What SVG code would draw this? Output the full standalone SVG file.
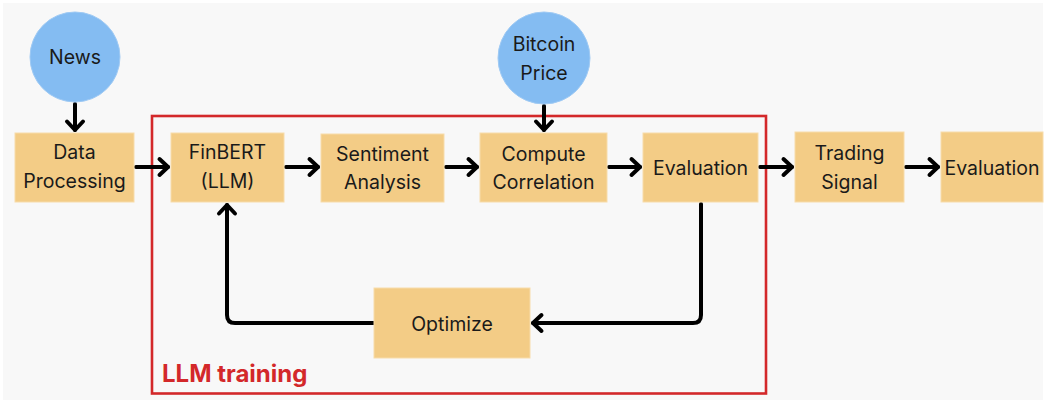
<svg xmlns="http://www.w3.org/2000/svg" width="1046" height="403" viewBox="0 0 1046 403">
<style>
.box{fill:#f3cc86;stroke:#f7dcaa;stroke-width:1}
.circ{fill:#84bcf2;stroke:#9fcaf4;stroke-width:1}
.t{font-family:Inter,"DejaVu Sans",sans-serif;font-size:19.5px;fill:#1a1a1a;text-anchor:middle}
.c{fill:none;stroke:#000;stroke-width:4;stroke-linecap:round;stroke-linejoin:round}
</style>
<defs>
<marker id="ah" markerUnits="userSpaceOnUse" markerWidth="24" markerHeight="24" viewBox="-14 -12 24 24" refX="0" refY="0" orient="auto" overflow="visible">
<path d="M-8.5,-8 L0,0 L-8.5,8" fill="none" stroke="#000" stroke-width="4" stroke-linecap="round" stroke-linejoin="round"/>
</marker>
</defs>
<rect x="0" y="0" width="1046" height="403" fill="#ffffff"/>
<rect x="3" y="3" width="1040" height="397" fill="#f8f8f8"/>
<g id="group-llm-training">
<rect x="152" y="116" width="614" height="277.5" fill="none" stroke="#d3282a" stroke-width="2.6"/>
<text x="162" y="382" font-family="Inter,'DejaVu Sans',sans-serif" font-size="24px" font-weight="700" fill="#d3282a">LLM training</text>
</g>
<g id="connectors">
<path class="c" d="M75,104 V130" marker-end="url(#ah)"/>
<path class="c" d="M544,106 V130" marker-end="url(#ah)"/>
<path class="c" d="M136,167 H168" marker-end="url(#ah)"/>
<path class="c" d="M286,167 H318" marker-end="url(#ah)"/>
<path class="c" d="M446,167 H477" marker-end="url(#ah)"/>
<path class="c" d="M609,167 H640" marker-end="url(#ah)"/>
<path class="c" d="M760,167 H792" marker-end="url(#ah)"/>
<path class="c" d="M906,167 H938" marker-end="url(#ah)"/>
<path class="c" d="M701,204 V315 Q701,323 693,323 H533" marker-end="url(#ah)"/>
<path class="c" d="M374,323 H235 Q227,323 227,315 V205" marker-end="url(#ah)"/>
</g>
<g id="node-news">
<circle class="circ" cx="75" cy="57" r="45"/>
<text class="t" x="75" y="64">News</text>
</g>
<g id="node-bitcoin">
<circle class="circ" cx="544" cy="58" r="46"/>
<text class="t" x="544" y="51">Bitcoin</text>
<text class="t" x="544" y="80">Price</text>
</g>
<g id="node-data-processing">
<rect class="box" x="15" y="133" width="119" height="69"/>
<text class="t" x="74.5" y="159">Data</text>
<text class="t" x="74.5" y="188">Processing</text>
</g>
<g id="node-finbert">
<rect class="box" x="171" y="133" width="113" height="69"/>
<text class="t" x="227.5" y="159">FinBERT</text>
<text class="t" x="227.5" y="188">(LLM)</text>
</g>
<g id="node-sentiment">
<rect class="box" x="321" y="134" width="123" height="68"/>
<text class="t" x="382.5" y="161">Sentiment</text>
<text class="t" x="382.5" y="189">Analysis</text>
</g>
<g id="node-compute">
<rect class="box" x="480" y="133" width="127" height="69"/>
<text class="t" x="543.5" y="161">Compute</text>
<text class="t" x="543.5" y="189">Correlation</text>
</g>
<g id="node-evaluation-1">
<rect class="box" x="643" y="133" width="115" height="69"/>
<text class="t" x="700.5" y="175">Evaluation</text>
</g>
<g id="node-trading-signal">
<rect class="box" x="795" y="132" width="109" height="70"/>
<text class="t" x="849.5" y="160">Trading</text>
<text class="t" x="849.5" y="189">Signal</text>
</g>
<g id="node-evaluation-2">
<rect class="box" x="941" y="132" width="102" height="70"/>
<text class="t" x="992" y="175">Evaluation</text>
</g>
<g id="node-optimize">
<rect class="box" x="374" y="288" width="156" height="70"/>
<text class="t" x="452" y="331">Optimize</text>
</g>
</svg>
